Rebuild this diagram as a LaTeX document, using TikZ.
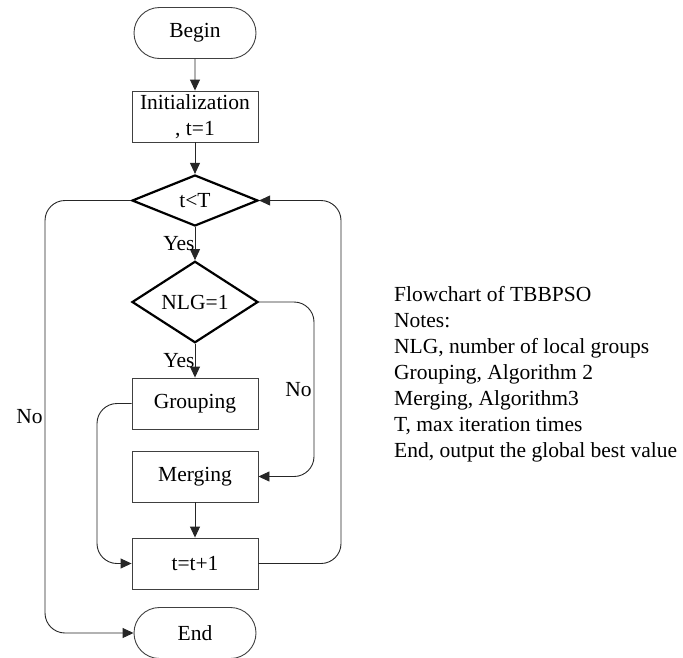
\documentclass[tikz,border=0pt]{standalone}
\usepackage{fontspec}
\setmainfont{Liberation Serif}
\usetikzlibrary{shapes.geometric,shapes.misc,arrows.meta}
\begin{document}
\begin{tikzpicture}[x=1pt,y=-1pt,
  font=\fontsize{21.5}{26}\selectfont,
  every node/.style={text=black},
  boxnode/.style={draw=black!75,line width=0.9pt,rectangle,minimum width=126pt,minimum height=51pt,inner sep=2pt,align=center},
  termnode/.style={draw=black!75,line width=0.9pt,rounded rectangle,minimum width=126pt,minimum height=51pt,inner sep=2pt},
  decnode/.style={draw=black,line width=2.2pt,diamond,minimum width=126pt,minimum height=51pt,inner sep=0pt},
  arr/.style={draw=black!85,line width=0.9pt,-{Triangle[length=11pt,width=10pt]}},
  conn/.style={arr,rounded corners=20pt},
  lbl/.style={inner sep=1pt,anchor=east},
  notestyle/.style={anchor=base west,inner sep=0pt,font=\fontsize{21.5}{26}\selectfont}
]
\useasboundingbox (0,0) rectangle (683,657);

\node[termnode] (begin) at (195,33) {Begin};
\node[boxnode] (init) at (195,116.5) {Initialization\\, t=1};
\node[decnode] (cond) at (195,200.5) {t<T};
\node[decnode] (nlg) at (195,302) {NLG=1};
\node[boxnode] (group) at (195,403.5) {Grouping};
\node[boxnode] (merge) at (195,476.5) {Merging};
\node[boxnode] (inc) at (195,563.5) {t=t+1};
\node[termnode] (end) at (195,633) {End};

\coordinate (L) at (45,0);
\coordinate (G) at (97,0);
\coordinate (M) at (314,0);
\coordinate (R) at (341,0);

\draw[arr] (begin) -- (init);
\draw[arr] (init) -- (cond);
\draw[arr] (cond) -- node[lbl,midway,xshift=1pt] (yes1) {Yes} (nlg);
\draw[arr] (nlg) -- node[lbl,midway,xshift=1pt] (yes2) {Yes} (group);
\draw[arr] (merge) -- (inc);

\draw[conn] (cond.west) -- (cond.west -| L) -- node[lbl,midway,xshift=-1pt] (no1) {No} (end.west -| L) -- (end.west);
\draw[conn] (nlg.east) -- (nlg.east -| M) -- node[lbl,midway,xshift=-1pt] (no2) {No} (merge.east -| M) -- (merge.east);
\draw[conn] (group.west) -- (group.west -| G) -- (inc.west -| G) -- (inc.west);
\draw[conn] (inc.east) -- (inc.east -| R) -- (cond.east -| R) -- (cond.east);

\foreach \t [count=\i from 0] in {Flowchart of TBBPSO,Notes:,{NLG, number of local groups},{Grouping, Algorithm 2},{Merging, Algorithm3},{T, max iteration times},{End, output the global best value}}
  \node[notestyle] (note\i) at (394,301+26*\i) {\t};
\end{tikzpicture}
\end{document}
